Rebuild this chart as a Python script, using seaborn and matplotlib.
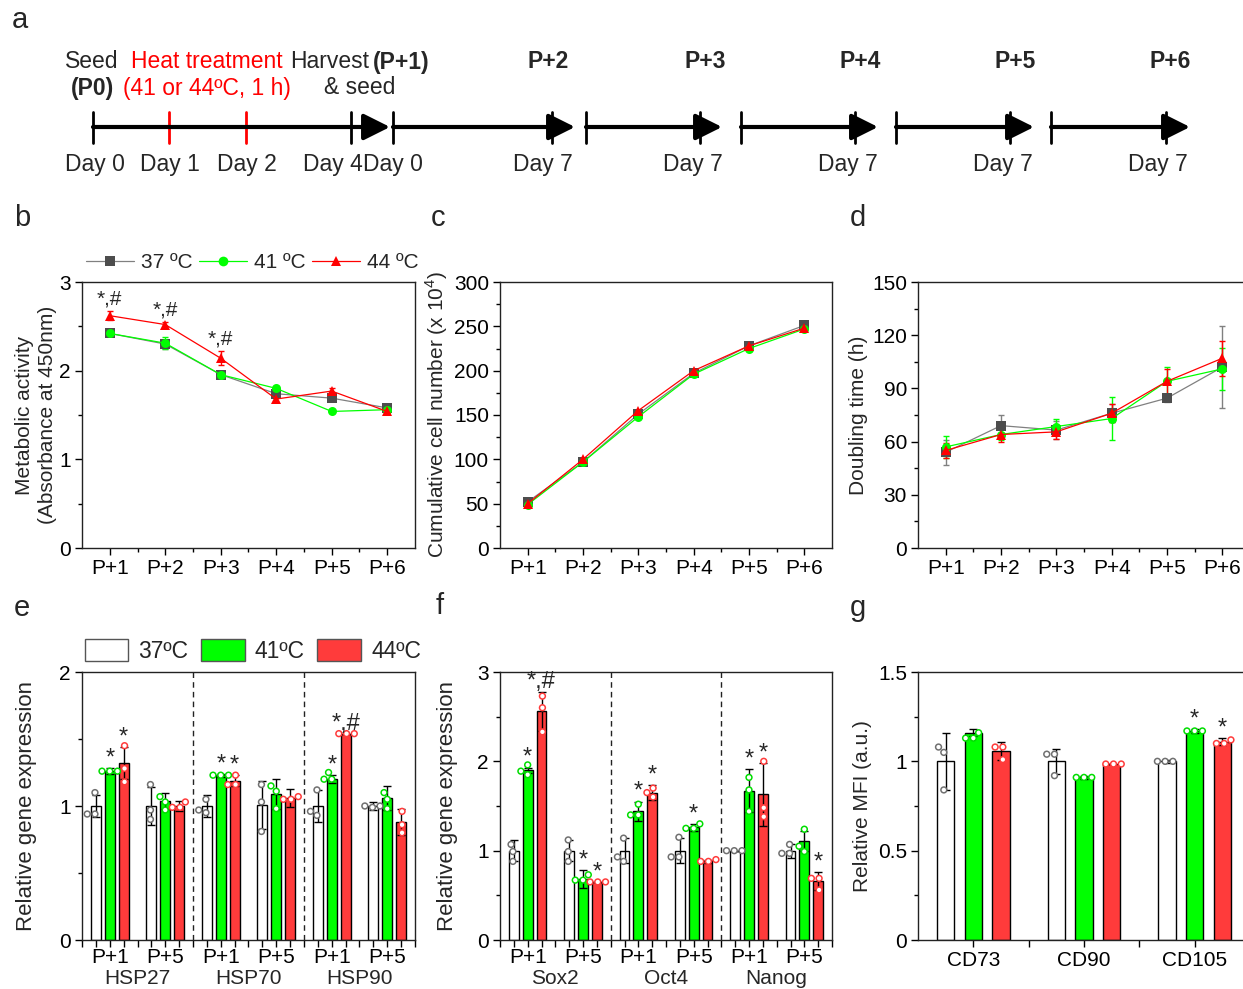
import numpy as np
import pandas as pd
import matplotlib
matplotlib.use('Agg')
import matplotlib.pyplot as plt
import matplotlib.colors as mcolors
from matplotlib.collections import PathCollection
from matplotlib.lines import Line2D
from matplotlib.patches import Patch
from matplotlib.ticker import MultipleLocator, FuncFormatter, FixedLocator
import seaborn as sns

# ---------------- data ----------------
passages = ['P+1', 'P+2', 'P+3', 'P+4', 'P+5', 'P+6']
temps = ['37 ºC', '41 ºC', '44 ºC']
bar_temps = ['37ºC', '41ºC', '44ºC']

# (b) metabolic activity
met_37 = [2.42, 2.30, 1.955, 1.74, 1.69, 1.58]
met_37_err = [0.02, 0.05, 0.02, 0.03, 0.02, 0.02]
met_41 = [2.42, 2.31, 1.955, 1.80, 1.54, 1.56]
met_41_err = [0.02, 0.07, 0.02, 0.02, 0.01, 0.01]
met_44 = [2.62, 2.52, 2.14, 1.68, 1.77, 1.54]
met_44_err = [0.05, 0.03, 0.08, 0.03, 0.03, 0.02]
met_sig = ['*,#', '*,#', '*,#', '', '', '']

# (c) cumulative cell number (x 10^4)
cum_37 = [52, 97, 151, 197, 228, 251]
cum_41 = [49, 97, 148, 196, 225, 247]
cum_44 = [50, 100, 155, 200, 228, 248]

# (d) doubling time (h)
dbl_37 = [54, 69, 66.5, 76, 84.5, 102]
dbl_37_err = [7, 6, 5, 5, 2, 23]
dbl_41 = [57, 64, 68.5, 73, 94, 101]
dbl_41_err = [6, 3, 4.5, 12, 8, 12]
dbl_44 = [55, 64, 65.5, 76, 94, 107]
dbl_44_err = [4, 4, 4, 5, 7, 10]

# (e) heat shock proteins
hsp_genes = ['HSP27', 'HSP70', 'HSP90']
hsp_groups = ['HSP27 P+1', 'HSP27 P+5', 'HSP70 P+1', 'HSP70 P+5', 'HSP90 P+1', 'HSP90 P+5']
hsp_37 = [1.0, 1.0, 1.0, 1.01, 1.0, 1.0]
hsp_37_err = [0.08, 0.14, 0.08, 0.18, 0.12, 0.03]
hsp_37_pts = [[1.10, 0.94, 0.94], [1.16, 0.97, 0.90], [1.05, 0.97, 0.95],
              [1.16, 1.03, 0.81], [1.12, 0.96, 0.93], [1.0, 1.0, 0.99]]
hsp_41 = [1.26, 1.04, 1.23, 1.09, 1.20, 1.06]
hsp_41_err = [0.02, 0.06, 0.01, 0.11, 0.03, 0.09]
hsp_41_pts = [[1.26, 1.26, 1.26], [1.07, 1.03, 0.97], [1.23, 1.23, 1.23],
              [1.15, 1.11, 0.98], [1.25, 1.20, 1.20], [1.10, 1.05, 0.98]]
hsp_44 = [1.32, 1.0, 1.19, 1.06, 1.54, 0.88]
hsp_44_err = [0.12, 0.04, 0.04, 0.07, 0.0, 0.10]
hsp_44_pts = [[1.45, 1.28, 1.18], [1.03, 0.99, 0.99], [1.23, 1.16, 1.16],
              [1.07, 1.05, 1.05], [1.54, 1.54, 1.54], [0.96, 0.86, 0.80]]
hsp_sig_41 = ['*', '', '*', '', '*', '']
hsp_sig_44 = ['*', '', '*', '', '*,#', '']

# (f) stemness genes
stem_genes = ['Sox2', 'Oct4', 'Nanog']
stem_groups = ['Sox2 P+1', 'Sox2 P+5', 'Oct4 P+1', 'Oct4 P+5', 'Nanog P+1', 'Nanog P+5']
stem_37 = [1.0, 1.0, 1.0, 1.0, 1.0, 1.0]
stem_37_err = [0.12, 0.12, 0.14, 0.14, 0.0, 0.08]
stem_37_pts = [[1.07, 0.99, 0.88], [1.12, 0.99, 0.88], [1.14, 0.93, 0.88],
               [1.15, 0.93, 0.93], [1.0, 1.0, 1.0], [1.07, 0.97, 0.97]]
stem_41 = [1.90, 0.68, 1.44, 1.26, 1.67, 1.11]
stem_41_err = [0.03, 0.10, 0.11, 0.04, 0.24, 0.11]
stem_41_pts = [[1.96, 1.89, 1.85], [0.73, 0.67, 0.67], [1.52, 1.40, 1.40],
               [1.30, 1.25, 1.25], [1.82, 1.68, 1.44], [1.24, 1.05, 0.99]]
stem_44 = [2.56, 0.65, 1.65, 0.88, 1.63, 0.66]
stem_44_err = [0.22, 0.0, 0.08, 0.02, 0.35, 0.10]
stem_44_pts = [[2.73, 2.60, 2.33], [0.65, 0.65, 0.65], [1.70, 1.65, 1.60],
               [0.90, 0.88, 0.88], [2.0, 1.48, 1.38], [0.69, 0.69, 0.56]]
stem_sig_41 = ['*', '*', '*', '*', '*', '']
stem_sig_44 = ['*,#', '*', '*', '', '*', '*']

# (g) surface markers MFI
cd_groups = ['CD73', 'CD90', 'CD105']
cd_37 = [1.0, 1.0, 1.0]
cd_37_err = [0.16, 0.07, 0.01]
cd_37_pts = [[1.08, 1.05, 0.84], [1.04, 1.04, 0.92], [1.0, 1.0, 1.0]]
cd_41 = [1.16, 0.91, 1.17]
cd_41_err = [0.02, 0.01, 0.01]
cd_41_pts = [[1.16, 1.13, 1.13], [0.91, 0.91, 0.91], [1.17, 1.17, 1.17]]
cd_44 = [1.06, 0.985, 1.11]
cd_44_err = [0.05, 0.0, 0.02]
cd_44_pts = [[1.08, 1.08, 1.01], [0.985, 0.985, 0.985], [1.12, 1.10, 1.10]]
cd_sig_41 = ['', '', '*']
cd_sig_44 = ['', '', '*']

# (a) timeline schematic labels
tl_top = ['P+2', 'P+3', 'P+4', 'P+5', 'P+6']
tl_days = ['Day 7'] * 5

# ---------------- style ----------------
sns.set_theme(style='ticks')
plt.rcParams['font.family'] = ['Liberation Sans', 'DejaVu Sans']
plt.rcParams['mathtext.fontset'] = 'custom'
plt.rcParams['mathtext.rm'] = 'Liberation Sans'

W, H = 1243, 989
FS = 15
FA = 16.5
FSIG = 17
fig = plt.figure(figsize=(W / 100, H / 100), dpi=100)

line_col = {'37 ºC': '#808080', '41 ºC': '#00ff00', '44 ºC': '#ff0000'}
mark_col = {'37 ºC': '#4d4d4d', '41 ºC': '#00ff00', '44 ºC': '#ff0000'}
markers = {'37 ºC': 's', '41 ºC': 'o', '44 ºC': '^'}
bar_pal = {'37ºC': '#ffffff', '41ºC': '#00ff00', '44ºC': '#ff3b3b'}
pt_pal = {'37ºC': '#707070', '41ºC': '#00dd00', '44ºC': '#ff3b3b'}


def px_axes(x0, y0, x1, y1):
    return fig.add_axes([x0 / W, 1 - y1 / H, (x1 - x0) / W, (y1 - y0) / H])


def style_axes(ax):
    for s in ax.spines.values():
        s.set_visible(True)
        s.set_linewidth(1.0)
        s.set_color('#222222')
    ax.tick_params(which='major', direction='out', length=5, width=1,
                   labelsize=FS, colors='black', pad=3)
    ax.tick_params(which='minor', direction='out', length=3, width=1, colors='black')
    ax.tick_params(which='both', top=False, right=False)
    ax.grid(False)


# ---------------- panel a: timeline ----------------
axa = fig.add_axes([0, 1 - 190 / H, 1, 190 / H])
axa.set_xlim(0, W)
axa.set_ylim(190, 0)
axa.axis('off')
ly = 127
seg_starts = [93, 393, 586, 741, 896, 1051]
seg_tips = [390, 575, 722, 878, 1034, 1190]
seg_ends = [351, 552, 700, 855, 1010, 1166]
for s0, tip, e in zip(seg_starts, seg_tips, seg_ends):
    axa.annotate('', xy=(tip, ly), xytext=(s0, ly),
                 arrowprops=dict(arrowstyle='-|>,head_length=0.8,head_width=0.4',
                                 lw=3.0, color='black', shrinkA=0, shrinkB=0,
                                 mutation_scale=20))
    axa.plot([s0, s0], [ly - 15, ly + 16], color='black', lw=2)
    axa.plot([e, e], [ly - 15, ly + 16], color='black', lw=2)
for rx in [169, 246]:
    axa.plot([rx, rx], [ly - 15, ly + 16], color='#ff0000', lw=2)

axa.text(92, 62, 'Seed', ha='center', va='center', fontsize=FA)
axa.text(93, 88, '(P0)', ha='center', va='center', fontsize=FA, fontweight='bold')
axa.text(207, 62, 'Heat treatment', ha='center', va='center', fontsize=FA, color='#ff0000')
axa.text(207, 88, '(41 or 44ºC, 1 h)', ha='center', va='center', fontsize=FA, color='#ff0000')
axa.text(369, 62, 'Harvest', ha='right', va='center', fontsize=FA)
axa.text(373, 62, '(P+1)', ha='left', va='center', fontsize=FA, fontweight='bold')
axa.text(360, 88, '& seed', ha='center', va='center', fontsize=FA)
for lab, xx in zip(tl_top, [548, 705, 860, 1015, 1170]):
    axa.text(xx, 62, lab, ha='center', va='center', fontsize=FA, fontweight='bold')
for lab, xx in zip(['Day 0', 'Day 1', 'Day 2'], [95, 170, 247]):
    axa.text(xx, 165, lab, ha='center', va='center', fontsize=FA)
axa.text(363, 165, 'Day 4', ha='right', va='center', fontsize=FA)
axa.text(363, 165, 'Day 0', ha='left', va='center', fontsize=FA)
for lab, xx in zip(tl_days, [543, 693, 848, 1003, 1158]):
    axa.text(xx, 165, lab, ha='center', va='center', fontsize=FA)


# ---------------- line panels ----------------
def line_panel(ax, series, errs, ylim, major, minor, ylabel, lab_x):
    rows = []
    for t, vals in zip(temps, series):
        for i, v in enumerate(vals):
            rows.append({'pos': i, 'val': v, 'temp': t})
    df = pd.DataFrame(rows)
    if errs is not None:
        for t, vals, e in zip(temps, series, errs):
            ax.errorbar(range(len(vals)), vals, yerr=e, fmt='none', ecolor=line_col[t],
                        elinewidth=1, capsize=2.5, capthick=1, zorder=1.5)
    sns.lineplot(data=df, x='pos', y='val', hue='temp', style='temp',
                 hue_order=temps, style_order=temps, palette=line_col,
                 markers=markers, dashes=False, markersize=6.5, linewidth=0.9,
                 markeredgewidth=0, legend=False, errorbar=None, ax=ax)
    for ln in ax.get_lines():
        try:
            c = mcolors.to_hex(ln.get_color())
        except Exception:
            continue
        if c == '#808080' and ln.get_marker() not in (None, '', 'None'):
            ln.set_markerfacecolor(mark_col['37 ºC'])
            ln.set_markeredgecolor(mark_col['37 ºC'])
    style_axes(ax)
    ax.set_xlim(-0.5, 5.5)
    ax.set_ylim(*ylim)
    ax.xaxis.set_major_locator(FixedLocator(range(6)))
    ax.set_xticklabels(passages)
    ax.xaxis.set_minor_locator(FixedLocator(np.arange(0.5, 5.5, 1.0)))
    ax.yaxis.set_major_locator(MultipleLocator(major))
    ax.yaxis.set_minor_locator(MultipleLocator(minor))
    ax.yaxis.set_major_formatter(FuncFormatter(lambda v, p: f'{v:g}'))
    ax.set_xlabel('')
    ax.set_ylabel(ylabel, fontsize=FS, linespacing=1.25)
    ax.yaxis.set_label_coords(lab_x, 0.5)


axb = px_axes(82, 282, 415, 548)
line_panel(axb, [met_37, met_41, met_44], [met_37_err, met_41_err, met_44_err],
           (0, 3), 1, 0.5, 'Metabolic activity\n(Absorbance at 450nm)', -0.075)
for i, s in enumerate(met_sig):
    if s:
        axb.text(i, met_44[i] + met_44_err[i] + 0.03, s, ha='center', va='bottom', fontsize=FS)
leg_handles = [Line2D([0], [0], color=line_col[t], lw=0.9, marker=markers[t],
                      markersize=7, markerfacecolor=mark_col[t], markeredgewidth=0)
               for t in temps]
axb.legend(leg_handles, temps, loc='lower left', bbox_to_anchor=(-0.01, 1.01),
           ncol=3, frameon=False, fontsize=FS, handlelength=2.3, handletextpad=0.35,
           columnspacing=0.3, borderaxespad=0.15, borderpad=0.2)

axc = px_axes(500, 282, 832, 548)
line_panel(axc, [cum_37, cum_41, cum_44], None, (0, 300), 50, 25,
           'Cumulative cell number (x 10$^{4}$)', -0.15)

axd = px_axes(918, 282, 1250, 548)
line_panel(axd, [dbl_37, dbl_41, dbl_44], [dbl_37_err, dbl_41_err, dbl_44_err],
           (0, 150), 30, 15, 'Doubling time (h)', -0.15)


# ---------------- bar panels ----------------
def bar_panel(ax, groups, means, errs, pts, sigs, ylim, major, minor, width, gap, ylabel,
              lab_x, sig_pad, ylab_fs):
    n = len(groups)
    rows = []
    prow = []
    for t, m, pp in zip(bar_temps, means, pts):
        for g, v, p3 in zip(groups, m, pp):
            rows.append({'group': g, 'temp': t, 'val': v})
            for p in p3:
                prow.append({'group': g, 'temp': t, 'val': p})
    dfb = pd.DataFrame(rows)
    dfp = pd.DataFrame(prow)
    sns.barplot(data=dfb, x='group', y='val', hue='temp', order=groups, hue_order=bar_temps,
                palette=bar_pal, saturation=1, edgecolor='black', linewidth=1, width=width,
                gap=gap, errorbar=None, legend=False, ax=ax, zorder=2)
    n_before = len(ax.collections)
    sns.swarmplot(data=dfp, x='group', y='val', hue='temp', order=groups, hue_order=bar_temps,
                  palette=pt_pal, dodge=True, size=4.2, linewidth=1.1, legend=False, ax=ax,
                  zorder=5, warn_thresh=1)
    for coll in ax.collections[n_before:]:
        if isinstance(coll, PathCollection):
            fc = coll.get_facecolors()
            coll.set_edgecolors(fc)
            coll.set_facecolors('white')
    step = width / 3
    for j, (m, e, sg) in enumerate(zip(means, errs, sigs)):
        xs = np.arange(n) + (j - 1) * step
        ax.errorbar(xs, m, yerr=e, fmt='none', ecolor='black', elinewidth=1,
                    capsize=3, capthick=1, zorder=4)
        if sg is not None:
            for x, v, ee, s in zip(xs, m, e, sg):
                if s:
                    ax.text(x, v + ee + sig_pad, s, ha='center', va='bottom', fontsize=FSIG,
                            zorder=6)
    style_axes(ax)
    ax.set_xlim(-0.5, n - 0.5)
    ax.set_ylim(*ylim)
    ax.yaxis.set_major_locator(MultipleLocator(major))
    ax.yaxis.set_minor_locator(MultipleLocator(minor))
    ax.yaxis.set_major_formatter(FuncFormatter(lambda v, p: f'{v:g}'))
    ax.set_xlabel('')
    ax.set_ylabel(ylabel, fontsize=ylab_fs)
    ax.yaxis.set_label_coords(lab_x, 0.5)


def gene_axis(ax, genes):
    ax.set_xticks(range(6))
    ax.set_xticklabels(['P+1', 'P+5'] * 3)
    ax.xaxis.set_minor_locator(MultipleLocator(0.25))
    ax.tick_params(axis='x', which='minor', length=5)
    ax.tick_params(axis='x', which='major', pad=1)
    for k, g in enumerate(genes):
        ax.text(2 * k + 0.5, -0.142, g, transform=ax.get_xaxis_transform(), ha='center',
                va='center', fontsize=FS)
    for xv in [1.5, 3.5]:
        ax.axvline(xv, color='#222222', lw=1, ls=(0, (4, 3)), zorder=1)


axe = px_axes(82, 672, 415, 940)
bar_panel(axe, hsp_groups, [hsp_37, hsp_41, hsp_44], [hsp_37_err, hsp_41_err, hsp_44_err],
          [hsp_37_pts, hsp_41_pts, hsp_44_pts], [None, hsp_sig_41, hsp_sig_44],
          (0, 2), 1, 0.5, 0.75, 0.28, 'Relative gene expression', -0.135, -0.01, 16)
gene_axis(axe, hsp_genes)
bar_handles = [Patch(facecolor=bar_pal[t], edgecolor='#555555', linewidth=1) for t in bar_temps]
axe.legend(bar_handles, bar_temps, loc='lower left', bbox_to_anchor=(-0.02, 1.0), ncol=3,
           frameon=False, fontsize=16.5, handlelength=1.9, handleheight=1.1,
           handletextpad=0.45, columnspacing=0.55, borderaxespad=0.2, borderpad=0.2)

axf = px_axes(500, 672, 832, 940)
bar_panel(axf, stem_groups, [stem_37, stem_41, stem_44], [stem_37_err, stem_41_err, stem_44_err],
          [stem_37_pts, stem_41_pts, stem_44_pts], [None, stem_sig_41, stem_sig_44],
          (0, 3), 1, 0.5, 0.75, 0.28, 'Relative gene expression', -0.125, -0.015, 16)
gene_axis(axf, stem_genes)

axg = px_axes(918, 672, 1250, 940)
bar_panel(axg, cd_groups, [cd_37, cd_41, cd_44], [cd_37_err, cd_41_err, cd_44_err],
          [cd_37_pts, cd_41_pts, cd_44_pts], [None, cd_sig_41, cd_sig_44],
          (0, 1.5), 0.5, 0.25, 0.75, 0.37, 'Relative MFI (a.u.)', -0.14, -0.008, 15)
axg.set_xticks(range(3))
axg.set_xticklabels(cd_groups)
axg.xaxis.set_minor_locator(FixedLocator([0.5, 1.5]))
axg.tick_params(axis='x', which='minor', length=5)

# ---------------- panel letters ----------------
for lab, (xx, yy) in zip('abcdefg', [(20, 20), (22, 218), (438, 218), (858, 218),
                                    (22, 608), (440, 606), (858, 608)]):
    fig.text(xx / W, 1 - yy / H, lab, ha='center', va='center', fontsize=21)

fig.savefig('out.png', dpi=100)
